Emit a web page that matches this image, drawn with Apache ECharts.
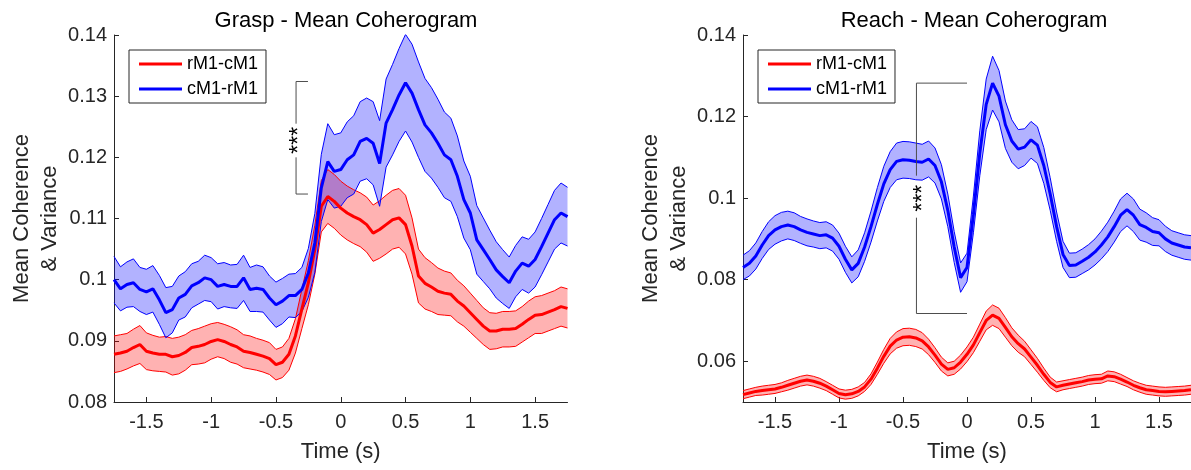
<!DOCTYPE html>
<html><head><meta charset="utf-8">
<script src="https://cdn.jsdelivr.net/npm/echarts@6/dist/echarts.min.js"></script>
<style>html,body{margin:0;padding:0;background:#fff}#c{width:1191px;height:470px}</style>
</head><body><div id="c"></div>
<script>
const time = [-1.75,-1.7,-1.65,-1.6,-1.55,-1.5,-1.45,-1.4,-1.35,-1.3,-1.25,-1.2,-1.15,-1.1,-1.05,-1,-0.95,-0.9,-0.85,-0.8,-0.75,-0.7,-0.65,-0.6,-0.55,-0.5,-0.45,-0.4,-0.35,-0.3,-0.25,-0.2,-0.15,-0.1,-0.05,0,0.05,0.1,0.15,0.2,0.25,0.3,0.35,0.4,0.45,0.5,0.55,0.6,0.65,0.7,0.75,0.8,0.85,0.9,0.95,1,1.05,1.1,1.15,1.2,1.25,1.3,1.35,1.4,1.45,1.5,1.55,1.6,1.65,1.7,1.75];
const xTicks = [-1.5,-1,-0.5,0,0.5,1,1.5];
const graspYTicks = [0.08,0.09,0.1,0.11,0.12,0.13,0.14];
const reachYTicks = [0.06,0.08,0.1,0.12,0.14];
const seriesNames = ['rM1-cM1','cM1-rM1'];
const titles = ['Grasp - Mean Coherogram','Reach - Mean Coherogram'];
const xName = 'Time (s)';
const yName = 'Mean Coherence\n& Variance';

// Grasp panel
const graspRedMean = [0.0878,0.0880,0.0883,0.0889,0.0894,0.0883,0.0880,0.0878,0.0878,0.0874,0.0876,0.0881,0.0889,0.0891,0.0894,0.0899,0.0902,0.0899,0.0894,0.0890,0.0883,0.0881,0.0878,0.0875,0.0871,0.0861,0.0865,0.0878,0.0908,0.0952,0.0995,0.1049,0.1120,0.1136,0.1128,0.1117,0.1109,0.1103,0.1098,0.1090,0.1076,0.1082,0.1090,0.1098,0.1101,0.1090,0.1055,0.1006,0.0994,0.0988,0.0981,0.0978,0.0976,0.0965,0.0957,0.0946,0.0935,0.0924,0.0916,0.0916,0.0919,0.0919,0.0920,0.0927,0.0935,0.0942,0.0943,0.0947,0.0951,0.0956,0.0953];
const graspRedHalf = [0.0030,0.0030,0.0029,0.0030,0.0031,0.0030,0.0029,0.0028,0.0029,0.0030,0.0030,0.0029,0.0028,0.0029,0.0030,0.0029,0.0028,0.0028,0.0029,0.0028,0.0027,0.0027,0.0026,0.0026,0.0026,0.0025,0.0025,0.0026,0.0028,0.0032,0.0036,0.0040,0.0042,0.0044,0.0044,0.0044,0.0044,0.0044,0.0044,0.0045,0.0046,0.0047,0.0048,0.0048,0.0048,0.0048,0.0046,0.0044,0.0042,0.0040,0.0038,0.0036,0.0035,0.0034,0.0033,0.0032,0.0031,0.0030,0.0030,0.0029,0.0029,0.0029,0.0029,0.0029,0.0030,0.0030,0.0031,0.0031,0.0031,0.0032,0.0032];
const graspBlueMean = [0.1000,0.0985,0.0992,0.0995,0.0984,0.0980,0.0985,0.0967,0.0946,0.0951,0.0970,0.0976,0.0990,0.0995,0.1003,0.1000,0.0989,0.0992,0.0989,0.0989,0.1003,0.0984,0.0986,0.0984,0.0970,0.0959,0.0965,0.0974,0.0974,0.0984,0.1011,0.1060,0.1150,0.1193,0.1177,0.1180,0.1196,0.1204,0.1226,0.1231,0.1223,0.1190,0.1256,0.1278,0.1302,0.1322,0.1305,0.1278,0.1253,0.1240,0.1223,0.1204,0.1196,0.1169,0.1131,0.1109,0.1065,0.1049,0.1033,0.1016,0.1005,0.0995,0.1014,0.1027,0.1022,0.1033,0.1054,0.1076,0.1098,0.1109,0.1103];
const graspBlueHalf = [0.0038,0.0036,0.0037,0.0039,0.0036,0.0037,0.0038,0.0040,0.0041,0.0038,0.0036,0.0037,0.0036,0.0035,0.0037,0.0036,0.0037,0.0036,0.0035,0.0036,0.0037,0.0036,0.0038,0.0037,0.0036,0.0037,0.0037,0.0035,0.0036,0.0036,0.0040,0.0048,0.0055,0.0062,0.0060,0.0060,0.0062,0.0064,0.0065,0.0066,0.0068,0.0070,0.0072,0.0074,0.0076,0.0079,0.0080,0.0078,0.0076,0.0074,0.0072,0.0070,0.0068,0.0066,0.0063,0.0060,0.0056,0.0052,0.0048,0.0046,0.0044,0.0042,0.0042,0.0043,0.0044,0.0045,0.0046,0.0047,0.0048,0.0049,0.0048];

// Reach panel
const reachRedMean = [0.0518,0.0522,0.0526,0.0528,0.0530,0.0532,0.0536,0.0541,0.0546,0.0551,0.0554,0.0551,0.0546,0.0539,0.0530,0.0521,0.0518,0.0520,0.0526,0.0537,0.0556,0.0583,0.0612,0.0637,0.0652,0.0659,0.0660,0.0657,0.0650,0.0635,0.0615,0.0593,0.0580,0.0584,0.0598,0.0617,0.0640,0.0670,0.0700,0.0713,0.0705,0.0683,0.0660,0.0643,0.0630,0.0610,0.0590,0.0568,0.0548,0.0537,0.0541,0.0544,0.0547,0.0550,0.0554,0.0556,0.0557,0.0564,0.0562,0.0556,0.0549,0.0541,0.0535,0.0530,0.0528,0.0526,0.0525,0.0526,0.0527,0.0528,0.0530];
const reachRedHalf = [0.0010,0.0010,0.0010,0.0011,0.0011,0.0011,0.0011,0.0012,0.0012,0.0012,0.0012,0.0012,0.0012,0.0011,0.0011,0.0011,0.0011,0.0011,0.0011,0.0011,0.0013,0.0015,0.0017,0.0019,0.0020,0.0021,0.0021,0.0021,0.0020,0.0019,0.0018,0.0017,0.0016,0.0016,0.0017,0.0018,0.0019,0.0021,0.0023,0.0025,0.0025,0.0024,0.0022,0.0021,0.0019,0.0018,0.0017,0.0015,0.0013,0.0012,0.0011,0.0011,0.0011,0.0011,0.0011,0.0011,0.0011,0.0012,0.0012,0.0012,0.0011,0.0011,0.0011,0.0011,0.0011,0.0011,0.0011,0.0011,0.0011,0.0011,0.0011];
const reachBlueMean = [0.0830,0.0840,0.0858,0.0885,0.0908,0.0922,0.0930,0.0934,0.0930,0.0922,0.0916,0.0912,0.0908,0.0910,0.0902,0.0882,0.0850,0.0824,0.0840,0.0880,0.0930,0.0985,0.1035,0.1070,0.1090,0.1094,0.1093,0.1090,0.1088,0.1096,0.1080,0.1040,0.0970,0.0880,0.0805,0.0830,0.0960,0.1110,0.1230,0.1282,0.1250,0.1180,0.1140,0.1120,0.1125,0.1143,0.1130,0.1080,0.1010,0.0930,0.0862,0.0835,0.0836,0.0845,0.0855,0.0868,0.0885,0.0905,0.0930,0.0958,0.0972,0.0958,0.0935,0.0928,0.0918,0.0915,0.0900,0.0890,0.0885,0.0880,0.0878];
const reachBlueHalf = [0.0030,0.0031,0.0032,0.0033,0.0034,0.0035,0.0035,0.0034,0.0034,0.0033,0.0033,0.0032,0.0032,0.0032,0.0032,0.0032,0.0032,0.0032,0.0033,0.0035,0.0038,0.0041,0.0043,0.0044,0.0045,0.0045,0.0045,0.0045,0.0044,0.0044,0.0043,0.0042,0.0040,0.0038,0.0036,0.0035,0.0045,0.0055,0.0062,0.0066,0.0063,0.0058,0.0052,0.0048,0.0045,0.0045,0.0045,0.0044,0.0040,0.0036,0.0032,0.0030,0.0030,0.0030,0.0031,0.0032,0.0034,0.0036,0.0038,0.0040,0.0040,0.0040,0.0038,0.0036,0.0034,0.0032,0.0031,0.0030,0.0030,0.0030,0.0030];

// significance brackets: [vertical x, arm end x, top y, bottom y, gap top y, gap bottom y], stars [x, y]
const graspBracket = [-0.345, -0.253, 0.1324, 0.1140, 0.1255, 0.1200];
const graspStars = [-0.32, 0.1228];
const reachBracket = [-0.395, 0.0, 0.1282, 0.0717, 0.1055, 0.0952];
const reachStars = [-0.34, 0.1000];

const RED = '#ff0000', BLUE = '#0000ff', AX = '#262626';
const FONT = '"Liberation Sans", Arial, Helvetica, sans-serif';

function pairs(vals){ return time.map((t,i)=>[t, vals[i]]); }
function bandSeries(idx, mean, half, color, fill, name){
  const lo = mean.map((m,i)=>m-half[i]);
  const hi = mean.map((m,i)=>m+half[i]);
  const bandData = time.map((t,i)=>[t, lo[i], hi[i]]);
  return [
    {type:'custom', xAxisIndex:idx, yAxisIndex:idx, data:bandData, encode:{x:0, y:[1,2]}, silent:true, z:2,
     renderItem:function(params, api){
       if (params.dataIndex !== 0) return null;
       const pts = [];
       for (let i=0;i<bandData.length;i++) pts.push(api.coord([bandData[i][0], bandData[i][2]]));
       for (let i=bandData.length-1;i>=0;i--) pts.push(api.coord([bandData[i][0], bandData[i][1]]));
       return {type:'polygon', shape:{points:pts}, style:{fill:fill, stroke:null}};
     }},
    {type:'line', xAxisIndex:idx, yAxisIndex:idx, data:pairs(lo), showSymbol:false, symbol:'none', lineStyle:{color:color,width:1}, silent:true, z:3},
    {type:'line', xAxisIndex:idx, yAxisIndex:idx, data:pairs(hi), showSymbol:false, symbol:'none', lineStyle:{color:color,width:1}, silent:true, z:3},
    {type:'line', name:name, xAxisIndex:idx, yAxisIndex:idx, data:pairs(mean), showSymbol:false, symbol:'none', lineStyle:{color:color,width:3}, itemStyle:{color:color}, silent:true, z:4}
  ];
}
function bracketSeries(idx, b, s){
  return [
    {type:'line', xAxisIndex:idx, yAxisIndex:idx, data:[[b[1],b[2]],[b[0],b[2]],[b[0],b[4]]], symbol:'none', lineStyle:{color:'#4d4d4d',width:1}, silent:true, z:5},
    {type:'line', xAxisIndex:idx, yAxisIndex:idx, data:[[b[0],b[5]],[b[0],b[3]],[b[1],b[3]]], symbol:'none', lineStyle:{color:'#4d4d4d',width:1}, silent:true, z:5},
    {type:'custom', xAxisIndex:idx, yAxisIndex:idx, data:[s], encode:{x:0,y:1}, silent:true, z:6,
     renderItem:function(params, api){
       const p = api.coord([api.value(0), api.value(1)]);
       return {type:'text', x:p[0], y:p[1], rotation:Math.PI/2,
         style:{text:'***', fontSize:23, fill:'#000', fontFamily:FONT, align:'center', verticalAlign:'middle'}};
     }}
  ];
}
function xAxis(idx){
  return {type:'value', gridIndex:idx, min:-1.75, max:1.75, name:xName, nameLocation:'middle', nameGap:39,
    nameTextStyle:{fontSize:22,color:AX,fontFamily:FONT},
    axisLine:{onZero:false,lineStyle:{color:AX,width:1}},
    axisTick:{inside:true,length:5,lineStyle:{color:AX},customValues:xTicks},
    axisLabel:{fontSize:20,color:AX,margin:10,fontFamily:FONT,customValues:xTicks},
    splitLine:{show:false}};
}
function yAxis(idx, min, max, ticks){
  return {type:'value', gridIndex:idx, min:min, max:max, name:yName, nameLocation:'middle', nameGap:50, nameRotate:90,
    nameTextStyle:{fontSize:22,color:AX,lineHeight:28,fontFamily:FONT,align:'center'},
    axisLine:{onZero:false,lineStyle:{color:AX,width:1}},
    axisTick:{inside:true,length:5,lineStyle:{color:AX},customValues:ticks},
    axisLabel:{fontSize:20,color:AX,margin:7,fontFamily:FONT,customValues:ticks},
    splitLine:{show:false}};
}
function legend(left){
  return {left:left, top:50, orient:'vertical', icon:'rect', itemWidth:43, itemHeight:3, itemGap:5,
    padding:[4,8,4,10], borderColor:AX, borderWidth:1, backgroundColor:'#fff',
    textStyle:{fontSize:18,color:'#000',lineHeight:20,fontFamily:FONT},
    selectedMode:false,
    data:[{name:seriesNames[0],itemStyle:{color:RED}},{name:seriesNames[1],itemStyle:{color:BLUE}}]};
}

const chart = echarts.init(document.getElementById('c'), null, {renderer:'canvas'});
chart.setOption({
  animation:false,
  backgroundColor:'#fff',
  title:[
    {text:titles[0], left:341, top:5, textAlign:'center', textStyle:{fontSize:22,fontWeight:'normal',color:'#000',fontFamily:FONT}},
    {text:titles[1], left:969, top:5, textAlign:'center', textStyle:{fontSize:22,fontWeight:'normal',color:'#000',fontFamily:FONT}}
  ],
  grid:[
    {left:114, top:35, width:453.5, height:367},
    {left:743, top:35, width:452, height:367}
  ],
  xAxis:[xAxis(0), xAxis(1)],
  yAxis:[yAxis(0,0.08,0.14,graspYTicks), yAxis(1,0.05,0.14,reachYTicks)],
  legend:[legend(129), legend(758)],
  series:[].concat(
    bandSeries(0, graspRedMean, graspRedHalf, RED, 'rgba(255,0,0,0.3)', seriesNames[0]),
    bandSeries(0, graspBlueMean, graspBlueHalf, BLUE, 'rgba(0,0,255,0.3)', seriesNames[1]),
    bandSeries(1, reachRedMean, reachRedHalf, RED, 'rgba(255,0,0,0.3)', seriesNames[0]),
    bandSeries(1, reachBlueMean, reachBlueHalf, BLUE, 'rgba(0,0,255,0.3)', seriesNames[1]),
    bracketSeries(0, graspBracket, graspStars),
    bracketSeries(1, reachBracket, reachStars)
  )
});
</script></body></html>
